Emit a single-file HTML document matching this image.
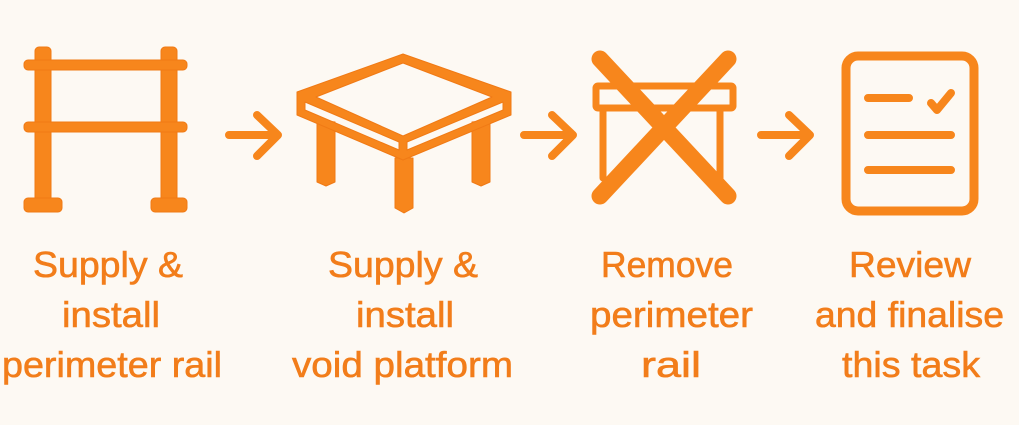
<!DOCTYPE html>
<html><head><meta charset="utf-8"><style>
html,body{margin:0;padding:0;background:#fdf9f3;}
svg{display:block}
text{font-family:"Liberation Sans",sans-serif;font-size:36px;fill:#f27d1a;stroke:#f27d1a;stroke-width:0.6}
</style></head><body>
<svg width="1019" height="425" viewBox="0 0 1019 425" xmlns="http://www.w3.org/2000/svg">
<rect width="1019" height="425" fill="#fdf9f3"/>
<g fill="#f7861c" stroke="#f07a15" stroke-width="1" stroke-linejoin="round">
 <!-- rail -->
 <rect x="35" y="47" width="16" height="160" rx="4"/>
 <rect x="161" y="47" width="16" height="160" rx="4"/>
 <rect x="24" y="60" width="163" height="10" rx="4"/>
 <rect x="24" y="122" width="163" height="10" rx="4"/>
 <rect x="24" y="198" width="38" height="14" rx="4"/>
 <rect x="151" y="198" width="36" height="14" rx="4"/>
 <!-- table legs -->
 <path d="M317 120 L335 122 L335 182 L326 186 L317 182 Z"/>
 <path d="M472 122 L490 120 L490 182 L481 186 L472 182 Z"/>
 <path d="M395 158 L413 158 L413 208 L404 213 L395 208 Z"/>
 <!-- table top -->
 <path fill-rule="evenodd" d="M403 54 L511 92 L511 115 L403 160 L297 115 L297 92 Z M403 63 L492 97 L403 136 L316 97 Z M305 102 L305 110 L399 150 L399 142 Z M503 102 L503 110 L407 150 L407 142 Z"/>
</g>
<g fill="none" stroke="#f7861c" stroke-linecap="round" stroke-linejoin="round">
 <!-- arrows -->
 <g stroke-width="8">
  <path d="M229 135 H277 M257 115 L278 135 L257 156"/>
  <path d="M524 135 H572 M552 115 L573 135 L552 156"/>
  <path d="M761 135 H809 M789 115 L810 135 L789 156"/>
 </g>
 <!-- remove rail -->
 <rect x="596" y="86" width="137" height="22" stroke-width="7" rx="2"/>
 <path d="M603 110 V178 M720 110 V178" stroke-width="7"/>
 <path d="M600 59 L728 196 M728 59 L600 196" stroke-width="17"/>
 <!-- doc -->
 <rect x="846" y="56" width="128" height="155" rx="12" stroke-width="9"/>
 <path d="M868 98 H909 M868 135 H951 M868 170 H951" stroke-width="8"/>
 <path d="M931 103 L937 110 L951 93" stroke-width="8"/>
</g>
<g text-anchor="start">
 <text x="33" y="277" textLength="150" lengthAdjust="spacingAndGlyphs">Supply &amp;</text>
 <text x="62" y="327" textLength="98" lengthAdjust="spacingAndGlyphs">install</text>
 <text x="2" y="377" textLength="220" lengthAdjust="spacingAndGlyphs">perimeter rail</text>
 <text x="328" y="277" textLength="150" lengthAdjust="spacingAndGlyphs">Supply &amp;</text>
 <text x="356" y="327" textLength="98" lengthAdjust="spacingAndGlyphs">install</text>
 <text x="292" y="377" textLength="221" lengthAdjust="spacingAndGlyphs">void platform</text>
 <text x="601" y="277" textLength="132" lengthAdjust="spacingAndGlyphs">Remove</text>
 <text x="590" y="327" textLength="163" lengthAdjust="spacingAndGlyphs">perimeter</text>
 <text x="641" y="377" textLength="60" lengthAdjust="spacingAndGlyphs">rail</text>
 <text x="849" y="277" textLength="122" lengthAdjust="spacingAndGlyphs">Review</text>
 <text x="815" y="327" textLength="189" lengthAdjust="spacingAndGlyphs">and finalise</text>
 <text x="842" y="377" textLength="138" lengthAdjust="spacingAndGlyphs">this task</text>
</g>
</svg>
</body></html>
